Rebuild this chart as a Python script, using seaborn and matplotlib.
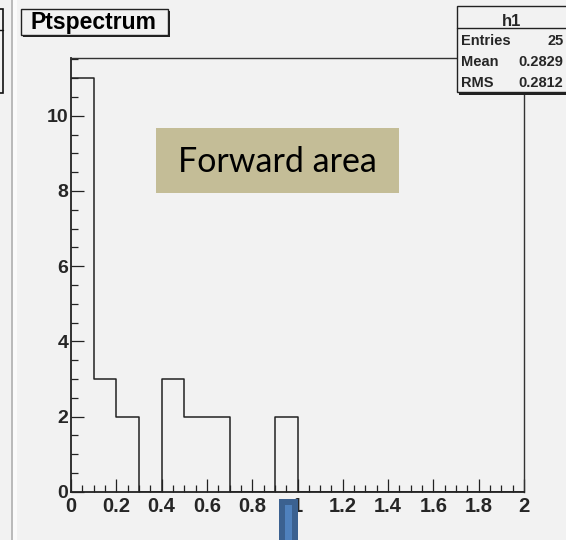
import numpy as np
import matplotlib
matplotlib.use('Agg')
import matplotlib.pyplot as plt
from matplotlib.patches import Rectangle
from matplotlib.lines import Line2D
from matplotlib.ticker import MultipleLocator, FixedLocator
import seaborn as sns

# ── Data ────────────────────────────────────────────────
bin_edges = [0.0, 0.1, 0.2, 0.3, 0.4, 0.5, 0.6, 0.7, 0.8, 0.9, 1.0,
             1.1, 1.2, 1.3, 1.4, 1.5, 1.6, 1.7, 1.8, 1.9, 2.0]
bin_centers = [0.05, 0.15, 0.25, 0.35, 0.45, 0.55, 0.65, 0.75, 0.85, 0.95,
               1.05, 1.15, 1.25, 1.35, 1.45, 1.55, 1.65, 1.75, 1.85, 1.95]
counts = [11, 3, 2, 0, 3, 2, 2, 0, 0, 2,
          0, 0, 0, 0, 0, 0, 0, 0, 0, 0]
x_ticks = [0, 0.2, 0.4, 0.6, 0.8, 1, 1.2, 1.4, 1.6, 1.8, 2]
x_ticklabels = ['0', '0.2', '0.4', '0.6', '0.8', '1', '1.2', '1.4', '1.6', '1.8', '2']
y_ticks = [0, 2, 4, 6, 8, 10]

title = 'Ptspectrum'
stats_name = 'h1'
stats_labels = ['Entries', 'Mean', 'RMS']
stats_values = ['25', '0.2829', '0.2812']
note = 'Forward area'

# ── Style ────────────────────────────────────────────────
BG = '#f2f2f2'
sns.set_style('ticks')
plt.rcParams['font.family'] = ['Liberation Sans', 'DejaVu Sans']

W, H = 566, 540
fig = plt.figure(figsize=(W / 100, H / 100), dpi=100, facecolor=BG)


def fx(px):
    return px / W


def fy(py):
    return 1 - py / H


def box(x0, y0, x1, y1, **kw):
    r = Rectangle((fx(x0), fy(y1)), (x1 - x0) / W, (y1 - y0) / H,
                  transform=fig.transFigure, **kw)
    fig.add_artist(r)
    return r


def hline(x0, x1, y, **kw):
    fig.add_artist(Line2D([fx(x0), fx(x1)], [fy(y), fy(y)],
                          transform=fig.transFigure, **kw))


# main axes
ax = fig.add_axes([fx(71), fy(491.7), (524 - 71) / W, (491.7 - 57.5) / H])
ax.set_facecolor(BG)

sns.histplot(x=bin_centers, weights=counts, bins=bin_edges, element='step',
             fill=False, color='#222222', linewidth=1.1, ax=ax)

ax.set_xlim(0, 2)
ax.set_ylim(0, 11.55)
ax.set_xlabel('')
ax.set_ylabel('')
ax.xaxis.set_major_locator(FixedLocator(x_ticks))
ax.set_xticklabels(x_ticklabels)
ax.xaxis.set_minor_locator(MultipleLocator(0.05))
ax.yaxis.set_major_locator(FixedLocator(y_ticks))
ax.yaxis.set_minor_locator(MultipleLocator(0.5))
ax.tick_params(which='both', direction='in', color='#222222', width=0.9)
ax.tick_params(which='major', length=9.5)
ax.tick_params(which='minor', length=4.7)
ax.tick_params(axis='x', pad=4, labelsize=14.5)
ax.tick_params(axis='y', pad=2, labelsize=14)
for lab in ax.get_xticklabels() + ax.get_yticklabels():
    lab.set_fontweight('bold')
for side in ['left', 'bottom']:
    ax.spines[side].set_linewidth(1.3)
    ax.spines[side].set_color('#222222')
for side in ['top', 'right']:
    ax.spines[side].set_visible(True)
    ax.spines[side].set_linewidth(1.0)
    ax.spines[side].set_color('#333333')

# left neighbour pad remnants
box(-10, 9, 3, 93, facecolor=BG, edgecolor='#111111', linewidth=1.2)
hline(-10, 3, 30, color='#111111', linewidth=1.0)
box(13, 0, 17, 540, facecolor='#fafafa', edgecolor='none')
fig.add_artist(Line2D([fx(12.3), fx(12.3)], [0, 1], transform=fig.transFigure,
                      color='#b5b5b5', linewidth=1.3))

# title box
box(23, 11, 170, 37, facecolor='#222222', edgecolor='none')
box(20.5, 9, 168, 35, facecolor=BG, edgecolor='#222222', linewidth=1.0)
fig.text(fx(31), fy(29.5), title, fontsize=16.5, fontweight='bold',
         ha='left', va='baseline', color='black')

# stats box
box(459, 8, 570, 94.5, facecolor='#222222', edgecolor='none', zorder=5)
box(456.7, 6, 568, 92, facecolor=BG, edgecolor='#222222', linewidth=1.0, zorder=6)
hline(456.7, 568, 27.7, color='#222222', linewidth=1.0, zorder=7)
fig.text(fx(511.5), fy(25.5), stats_name, fontsize=12, fontweight='bold',
         ha='center', va='baseline', zorder=8)
for i, (lab, val) in enumerate(zip(stats_labels, stats_values)):
    yb = 45 + i * 21.2
    fig.text(fx(461.5), fy(yb), lab, fontsize=10.5, fontweight='bold',
             ha='left', va='baseline', zorder=8)
    fig.text(fx(563.5), fy(yb), val, fontsize=10.5, fontweight='bold',
             ha='right', va='baseline', zorder=8)

# annotation box
box(156, 128, 399, 193, facecolor='#c4bd97', edgecolor='none', zorder=9)
fig.text(fx(277), fy(172.3), note, fontsize=24.5, family=['Lato', 'DejaVu Sans'],
         ha='center', va='baseline', color='black', zorder=10)

# blue marker below the axis
box(279.3, 499, 297.5, 545, facecolor='#3b6190', edgecolor='none', zorder=9)
box(285, 505, 291.8, 545, facecolor='#4f81bd', edgecolor='none', zorder=10)

fig.savefig('out.png', dpi=100, facecolor=BG)
